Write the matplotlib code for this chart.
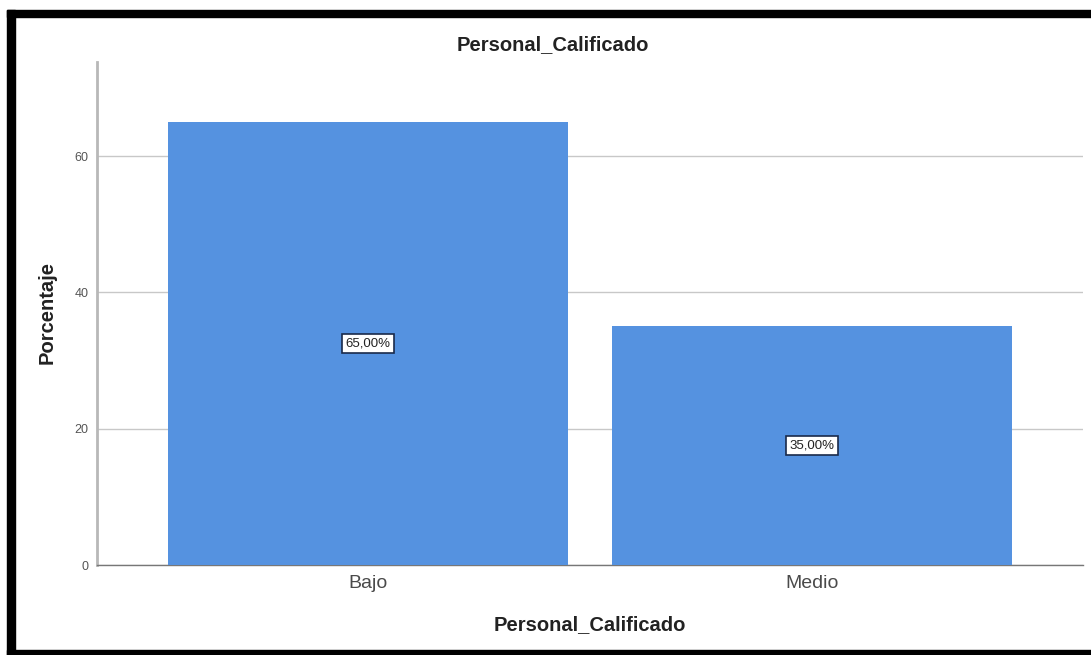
import matplotlib
matplotlib.use("Agg")
import matplotlib.pyplot as plt
from matplotlib.patches import Rectangle

categories = ["Bajo", "Medio"]
percentages = [65.0, 35.0]
yticks = [0, 20, 40, 60]
title = "Personal_Calificado"
xlabel = "Personal_Calificado"
ylabel = "Porcentaje"

plt.rcParams['font.family'] = ['Liberation Sans', 'DejaVu Sans']

W, H = 1091, 655
fig = plt.figure(figsize=(W / 100, H / 100), dpi=100)
fig.patch.set_facecolor("white")

ax = fig.add_axes([97 / W, 1 - 565 / H, (1083 - 97) / W, (565 - 62) / H])
x = list(range(len(categories)))
ax.bar(x, percentages, width=0.9, color="#5592e0", edgecolor="none", zorder=3)
ax.set_xlim(-0.61, 1.61)
ax.set_ylim(0, 73.8)

ax.set_yticks(yticks)
ax.set_yticklabels([str(v) for v in yticks], fontsize=9, color="#555555")
ax.set_xticks(x)
ax.set_xticklabels(categories, fontsize=14, color="#4a4a4a")
ax.tick_params(axis="y", length=0, pad=6)
ax.tick_params(axis="x", length=0, pad=7)

ax.grid(axis="y", color="#c8c8c8", linewidth=1, zorder=0)
for s in ["top", "right"]:
    ax.spines[s].set_visible(False)
ax.spines["left"].set_color("#b8b8b8")
ax.spines["left"].set_linewidth(2)
ax.spines["bottom"].set_color("#777777")
ax.spines["bottom"].set_linewidth(1)

for xi, v in zip(x, percentages):
    ax.text(xi, v / 2, f"{v:.2f}%".replace(".", ","), ha="center", va="center",
            fontsize=9.5, color="#222222", zorder=5,
            bbox=dict(boxstyle="square,pad=0.25", facecolor="white",
                      edgecolor="#1a2a4a", linewidth=1.2))

fig.text(590 / W, 1 - 625 / H, xlabel, ha="center", va="center",
         fontsize=14.5, fontweight="bold", color="#222222")
fig.text(47 / W, 1 - 313 / H, ylabel, ha="center", va="center", rotation=90,
         fontsize=14.5, fontweight="bold", color="#222222")
fig.text(553 / W, 1 - 45 / H, title, ha="center", va="center",
         fontsize=14.5, fontweight="bold", color="#222222")

# thick black frame (left, top, bottom)
fig.add_artist(Rectangle((7 / W, 1 - 17 / H), (W - 7) / W, 7 / H,
                         transform=fig.transFigure, color="black", zorder=10))
fig.add_artist(Rectangle((7 / W, 0), 8 / W, 1 - 10 / H,
                         transform=fig.transFigure, color="black", zorder=10))
fig.add_artist(Rectangle((7 / W, 0), (W - 7) / W, 5 / H,
                         transform=fig.transFigure, color="black", zorder=10))

fig.savefig("out.png", dpi=100)
